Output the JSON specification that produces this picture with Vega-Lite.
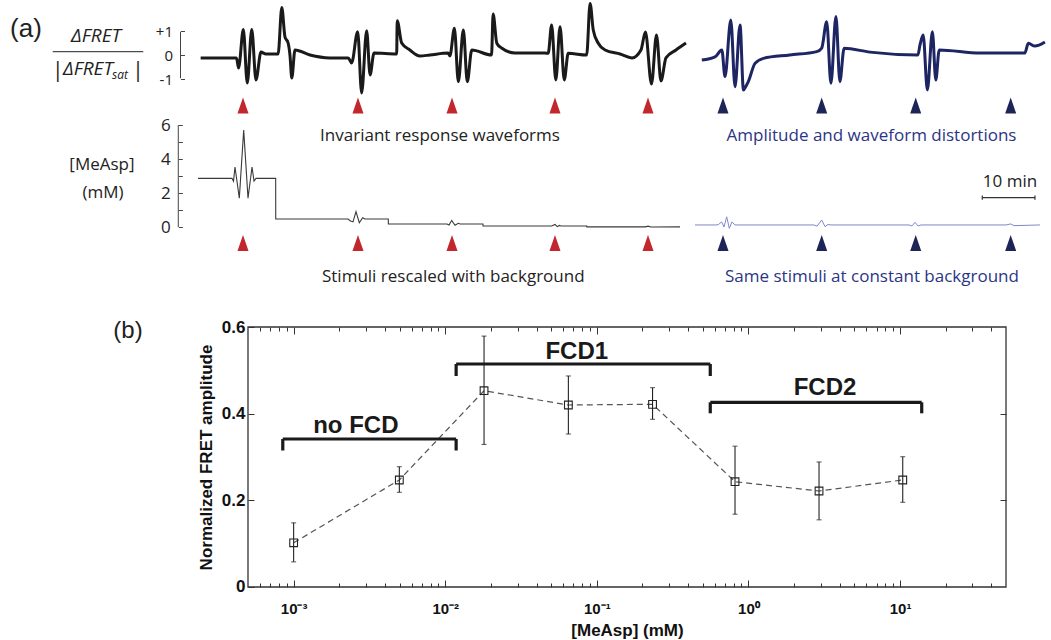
{
  "$schema": "https://vega.github.io/schema/vega-lite/v6.json",
  "width": 1051,
  "height": 640,
  "autosize": {"type": "none"},
  "padding": 0,
  "background": "white",
  "config": {"view": {"stroke": null}, "axis": {"grid": false, "domain": false}},
  "datasets": {
    "resp_bg": [
      {"t":0.5,"v":-0.12},{"t":7.3,"v":-0.12},{"t":7.7,"v":-0.54},{"t":8.6,"v":1.06},{"t":9.35,"v":-1.17},{"t":10.2,"v":1.06},{"t":11.0,"v":-1.04},{"t":11.95,"v":0.12},{"t":12.9,"v":0.04},{"t":15.2,"v":0.04},{"t":15.9,"v":1.98},{"t":16.5,"v":0.76},{"t":17.1,"v":0.5},{"t":17.45,"v":0.0},{"t":17.8,"v":-0.96},{"t":18.4,"v":0.21},{"t":21.25,"v":0.0},{"t":25.0,"v":-0.12},{"t":28.5,"v":-0.12},{"t":29.15,"v":-0.33},{"t":30.3,"v":0.97},{"t":31.05,"v":-1.58},{"t":32.0,"v":1.01},{"t":32.65,"v":-0.83},{"t":33.4,"v":0.08},{"t":37.7,"v":0.04},{"t":37.8,"v":1.43},{"t":38.65,"v":0.5},{"t":40.2,"v":0.21},{"t":42.1,"v":-0.04},{"t":44.0,"v":0.0},{"t":47.45,"v":0.08},{"t":47.8,"v":-0.04},{"t":48.65,"v":1.11},{"t":49.4,"v":-1.11},{"t":50.35,"v":1.04},{"t":51.1,"v":-1.11},{"t":51.95,"v":0.21},{"t":55.7,"v":0.0},{"t":56.0,"v":1.71},{"t":56.7,"v":0.49},{"t":57.6,"v":0.29},{"t":60.15,"v":0.08},{"t":65.85,"v":0.08},{"t":66.45,"v":0.07},{"t":67.1,"v":1.25},{"t":67.9,"v":-1.04},{"t":68.7,"v":1.18},{"t":69.5,"v":-1.04},{"t":70.25,"v":0.07},{"t":73.75,"v":0.0},{"t":74.4,"v":2.15},{"t":75.0,"v":1.04},{"t":75.95,"v":0.49},{"t":77.25,"v":0.21},{"t":80.1,"v":0.04},{"t":82.35,"v":-0.12},{"t":84.05,"v":0.21},{"t":84.9,"v":0.96},{"t":86.05,"v":-1.21},{"t":87.0,"v":0.83},{"t":87.85,"v":-1.08},{"t":88.8,"v":-0.12},{"t":90.7,"v":0.21},{"t":92.6,"v":0.5}
    ],
    "resp_const": [
      {"t":95.6,"v":-0.21},{"t":98.1,"v":-0.08},{"t":99.4,"v":0.21},{"t":100.0,"v":-0.9},{"t":101.1,"v":1.46},{"t":101.9,"v":-1.32},{"t":102.85,"v":1.25},{"t":103.5,"v":-1.46},{"t":104.0,"v":-1.29},{"t":104.4,"v":-1.12},{"t":105.7,"v":-0.35},{"t":107.3,"v":-0.14},{"t":112.3,"v":0.0},{"t":117.4,"v":0.14},{"t":118.35,"v":0.29},{"t":119.3,"v":1.39},{"t":120.1,"v":-1.18},{"t":121.05,"v":1.6},{"t":121.8,"v":-1.11},{"t":122.6,"v":0.28},{"t":127.5,"v":0.12},{"t":136.6,"v":0.0},{"t":137.0,"v":0.42},{"t":137.6,"v":0.83},{"t":138.4,"v":-1.46},{"t":139.35,"v":0.97},{"t":140.0,"v":-1.04},{"t":140.65,"v":0.21},{"t":148.4,"v":0.08},{"t":156.9,"v":0.08},{"t":157.55,"v":0.49},{"t":158.8,"v":0.37},{"t":160.7,"v":0.54}
    ],
    "stim_bg": [
      {"t":0,"v":2.86},{"t":6.45,"v":2.86},{"t":6.74,"v":2.7},{"t":7.02,"v":3.53},{"t":7.84,"v":1.7},{"t":8.67,"v":5.7},{"t":9.49,"v":1.7},{"t":10.25,"v":3.53},{"t":10.63,"v":2.7},{"t":11.01,"v":2.86},{"t":14.74,"v":2.86},{"t":14.75,"v":0.47},{"t":28.46,"v":0.47},{"t":28.94,"v":0.35},{"t":29.41,"v":0.3},{"t":29.98,"v":0.9},{"t":30.61,"v":0.25},{"t":31.25,"v":0.55},{"t":31.69,"v":0.47},{"t":36.11,"v":0.47},{"t":36.12,"v":0.18},{"t":47.25,"v":0.18},{"t":47.63,"v":0.12},{"t":48.14,"v":0.38},{"t":48.77,"v":0.1},{"t":49.39,"v":0.22},{"t":49.72,"v":0.18},{"t":54.08,"v":0.18},{"t":54.09,"v":0.06},{"t":67.12,"v":0.06},{"t":67.74,"v":0.15},{"t":68.18,"v":0.02},{"t":68.56,"v":0.09},{"t":68.88,"v":0.06},{"t":73.76,"v":0.06},{"t":73.77,"v":0.01},{"t":84.9,"v":0.01},{"t":85.4,"v":0.05},{"t":85.9,"v":0.0},{"t":91.46,"v":0.01}
    ],
    "stim_const": [
      {"t":94.31,"v":0.12},{"t":98.29,"v":0.12},{"t":98.73,"v":0.14},{"t":99.37,"v":0.3},{"t":99.81,"v":0.0},{"t":100.32,"v":0.6},{"t":100.82,"v":-0.08},{"t":101.33,"v":0.3},{"t":101.9,"v":0.12},{"t":116.89,"v":0.12},{"t":117.46,"v":0.05},{"t":118.35,"v":0.41},{"t":118.98,"v":0.02},{"t":119.54,"v":0.15},{"t":120.1,"v":0.12},{"t":134.91,"v":0.12},{"t":135.48,"v":0.06},{"t":136.05,"v":0.28},{"t":136.62,"v":0.06},{"t":137.19,"v":0.12},{"t":153.32,"v":0.12},{"t":154.21,"v":0.18},{"t":154.84,"v":0.08},{"t":159.77,"v":0.12}
    ],
    "stimuli_bg": [{"t":8.54},{"t":30.36},{"t":48.2},{"t":67.74},{"t":85.39}],
    "stimuli_const": [{"t":99.62},{"t":118.35},{"t":136.19},{"t":154.21}],
    "fcd": [
      {"c":0.001,"a":0.102,"lo":0.058,"hi":0.148},
      {"c":0.00498,"a":0.247,"lo":0.2185,"hi":0.2776},
      {"c":0.01803,"a":0.453,"lo":0.329,"hi":0.579},
      {"c":0.0649,"a":0.42,"lo":0.353,"hi":0.487},
      {"c":0.2331,"a":0.4216,"lo":0.387,"hi":0.46},
      {"c":0.8157,"a":0.243,"lo":0.168,"hi":0.325},
      {"c":2.922,"a":0.2215,"lo":0.155,"hi":0.2885},
      {"c":10.42,"a":0.247,"lo":0.1955,"hi":0.3007}
    ],
    "regimes": [
      {"name":"no FCD","from":0.000848,"to":0.0118,"level":0.3415,"foot":0.315},
      {"name":"FCD1","from":0.0118,"to":0.56,"level":0.5146,"foot":0.4869},
      {"name":"FCD2","from":0.56,"to":13.9,"level":0.4262,"foot":0.4008}
    ]
  },
  "layer": [
    {
      "layer": [
        {
          "data": {"name": "resp_bg"},
          "mark": {"type": "line", "stroke": "#1a1a1a", "strokeWidth": 3, "strokeJoin": "round", "interpolate": "monotone"},
          "encoding": {
            "x": {"field": "t", "type": "quantitative", "scale": {"domain": [-37.571, 161.86], "nice": false, "zero": false}, "axis": null},
            "y": {"field": "v", "type": "quantitative", "scale": {"domain": [-24.375, 2.2917], "nice": false, "zero": false},
              "axis": {"orient": "left", "offset": -180.5, "values": [-1, 0, 1], "tickSize": -4, "tickColor": "#444", "tickWidth": 1,
                "labelExpr": "datum.value > 0 ? '+1' : (datum.value < 0 ? '-1' : '0')", "labelFont": "Open Sans", "labelFontSize": 15, "labelColor": "#222", "labelPadding": 12, "labelOverlap": false, "title": null}}
          }
        },
        {
          "data": {"name": "resp_const"},
          "mark": {"type": "line", "stroke": "#1d2563", "strokeWidth": 3, "strokeJoin": "round", "interpolate": "monotone"},
          "encoding": {
            "x": {"field": "t", "type": "quantitative", "scale": {"domain": [-37.571, 161.86], "nice": false, "zero": false}, "axis": null},
            "y": {"field": "v", "type": "quantitative", "scale": {"domain": [-24.375, 2.2917], "nice": false, "zero": false}}
          }
        },
        {
          "data": {"name": "stimuli_bg"},
          "mark": {"type": "point", "shape": "M0,-1L0.69,1L-0.69,1Z", "filled": true, "fill": "#c1272d", "opacity": 1, "size": 256, "strokeWidth": 0},
          "encoding": {
            "x": {"field": "t", "type": "quantitative", "scale": {"domain": [-37.571, 161.86], "nice": false, "zero": false}, "axis": null},
            "y": {"datum": -2.104, "type": "quantitative"}
          }
        },
        {
          "data": {"name": "stimuli_const"},
          "mark": {"type": "point", "shape": "M0,-1L0.69,1L-0.69,1Z", "filled": true, "fill": "#1d2456", "opacity": 1, "size": 256, "strokeWidth": 0},
          "encoding": {
            "x": {"field": "t", "type": "quantitative", "scale": {"domain": [-37.571, 161.86], "nice": false, "zero": false}, "axis": null},
            "y": {"datum": -2.104, "type": "quantitative"}
          }
        },
        {
          "data": {"values": [{}]},
          "mark": {"type": "rule", "stroke": "#444", "strokeWidth": 1},
          "encoding": {"x": {"datum": -3.32, "type": "quantitative"}, "y": {"datum": -0.97, "type": "quantitative"}, "y2": {"datum": 0.97}}
        },
        {
          "data": {"values": [{}]},
          "mark": {"type": "text", "text": "(a)", "font": "Liberation Sans", "fontSize": 26, "fill": "#222", "align": "center", "baseline": "alphabetic"},
          "encoding": {"x": {"datum": -32.64, "type": "quantitative"}, "y": {"datum": 0.75, "type": "quantitative"}}
        },
        {
          "data": {"values": [{}]},
          "mark": {"type": "text", "text": "ΔFRET", "font": "Open Sans", "fontStyle": "italic", "fontSize": 19, "fill": "#222", "align": "center", "baseline": "alphabetic"},
          "encoding": {"x": {"datum": -19.35, "type": "quantitative"}, "y": {"datum": 0.542, "type": "quantitative"}}
        },
        {
          "data": {"values": [{}]},
          "mark": {"type": "rule", "stroke": "#222", "strokeWidth": 1},
          "encoding": {"x": {"datum": -27.57, "type": "quantitative"}, "x2": {"datum": -10.38}, "y": {"datum": 0.1375, "type": "quantitative"}}
        },
        {
          "data": {"values": [{}]},
          "mark": {"type": "text", "text": "|", "font": "Open Sans", "fontSize": 21, "fill": "#222", "align": "center", "baseline": "alphabetic"},
          "encoding": {"x": {"datum": -26.6, "type": "quantitative"}, "y": {"datum": -0.9, "type": "quantitative"}}
        },
        {
          "data": {"values": [{}]},
          "mark": {"type": "text", "text": "ΔFRET", "font": "Open Sans", "fontStyle": "italic", "fontSize": 19, "fill": "#222", "align": "left", "baseline": "alphabetic"},
          "encoding": {"x": {"datum": -25.62, "type": "quantitative"}, "y": {"datum": -0.833, "type": "quantitative"}}
        },
        {
          "data": {"values": [{}]},
          "mark": {"type": "text", "text": "sat", "font": "Open Sans", "fontStyle": "italic", "fontSize": 12, "fill": "#222", "align": "left", "baseline": "alphabetic"},
          "encoding": {"x": {"datum": -16.32, "type": "quantitative"}, "y": {"datum": -1.0, "type": "quantitative"}}
        },
        {
          "data": {"values": [{}]},
          "mark": {"type": "text", "text": "|", "font": "Open Sans", "fontSize": 21, "fill": "#222", "align": "center", "baseline": "alphabetic"},
          "encoding": {"x": {"datum": -11.39, "type": "quantitative"}, "y": {"datum": -0.9, "type": "quantitative"}}
        }
      ]
    },
    {
      "layer": [
        {
          "data": {"name": "stim_bg"},
          "mark": {"type": "line", "stroke": "#3a3a3a", "strokeWidth": 1.1},
          "encoding": {
            "x": {"field": "t", "type": "quantitative", "scale": {"domain": [-37.571, 161.86], "nice": false, "zero": false}, "axis": null},
            "y": {"field": "v", "type": "quantitative", "scale": {"domain": [-24.294, 13.353], "nice": false, "zero": false},
              "axis": {"orient": "left", "offset": -178.3, "values": [0, 1, 2, 3, 4, 5, 6], "tickSize": -4, "tickColor": "#444", "tickWidth": 1,
                "labelExpr": "datum.value % 2 == 0 ? datum.label : ''", "labelFont": "Open Sans", "labelFontSize": 17, "labelColor": "#222", "labelPadding": 12, "labelOverlap": false, "title": null}}
          }
        },
        {
          "data": {"name": "stim_const"},
          "mark": {"type": "line", "stroke": "#7f89c9", "strokeWidth": 1},
          "encoding": {
            "x": {"field": "t", "type": "quantitative", "scale": {"domain": [-37.571, 161.86], "nice": false, "zero": false}, "axis": null},
            "y": {"field": "v", "type": "quantitative", "scale": {"domain": [-24.294, 13.353], "nice": false, "zero": false}}
          }
        },
        {
          "data": {"name": "stimuli_bg"},
          "mark": {"type": "point", "shape": "M0,-1L0.69,1L-0.69,1Z", "filled": true, "fill": "#c1272d", "opacity": 1, "size": 256, "strokeWidth": 0},
          "encoding": {
            "x": {"field": "t", "type": "quantitative", "scale": {"domain": [-37.571, 161.86], "nice": false, "zero": false}, "axis": null},
            "y": {"datum": -0.941, "type": "quantitative"}
          }
        },
        {
          "data": {"name": "stimuli_const"},
          "mark": {"type": "point", "shape": "M0,-1L0.69,1L-0.69,1Z", "filled": true, "fill": "#1d2456", "opacity": 1, "size": 256, "strokeWidth": 0},
          "encoding": {
            "x": {"field": "t", "type": "quantitative", "scale": {"domain": [-37.571, 161.86], "nice": false, "zero": false}, "axis": null},
            "y": {"datum": -0.941, "type": "quantitative"}
          }
        },
        {
          "data": {"values": [{}]},
          "mark": {"type": "rule", "stroke": "#444", "strokeWidth": 1},
          "encoding": {"x": {"datum": -3.74, "type": "quantitative"}, "y": {"datum": 0, "type": "quantitative"}, "y2": {"datum": 6}}
        },
        {
          "data": {"values": [{}]},
          "mark": {"type": "rule", "stroke": "#333", "strokeWidth": 1.2},
          "encoding": {"x": {"datum": 148.82, "type": "quantitative"}, "x2": {"datum": 158.82}, "y": {"datum": 1.724, "type": "quantitative"}}
        },
        {
          "data": {"values": [{}]},
          "mark": {"type": "rule", "stroke": "#333", "strokeWidth": 1.2},
          "encoding": {"x": {"datum": 148.82, "type": "quantitative"}, "y": {"datum": 1.6, "type": "quantitative"}, "y2": {"datum": 1.85}}
        },
        {
          "data": {"values": [{}]},
          "mark": {"type": "rule", "stroke": "#333", "strokeWidth": 1.2},
          "encoding": {"x": {"datum": 158.82, "type": "quantitative"}, "y": {"datum": 1.6, "type": "quantitative"}, "y2": {"datum": 1.85}}
        },
        {
          "data": {"values": [{}]},
          "mark": {"type": "text", "text": "10 min", "font": "Open Sans", "fontSize": 17, "fill": "#222", "align": "center", "baseline": "alphabetic"},
          "encoding": {"x": {"datum": 154.08, "type": "quantitative"}, "y": {"datum": 2.353, "type": "quantitative"}}
        },
        {
          "data": {"values": [{}]},
          "mark": {"type": "text", "text": "Invariant response waveforms", "font": "Open Sans", "fontSize": 17, "fill": "#222", "align": "center", "baseline": "alphabetic"},
          "encoding": {"x": {"datum": 45.92, "type": "quantitative"}, "y": {"datum": 5.059, "type": "quantitative"}}
        },
        {
          "data": {"values": [{}]},
          "mark": {"type": "text", "text": "Amplitude and waveform distortions", "font": "Open Sans", "fontSize": 17, "fill": "#2b3585", "align": "center", "baseline": "alphabetic"},
          "encoding": {"x": {"datum": 127.8, "type": "quantitative"}, "y": {"datum": 5.059, "type": "quantitative"}}
        },
        {
          "data": {"values": [{}]},
          "mark": {"type": "text", "text": "Stimuli rescaled with background", "font": "Open Sans", "fontSize": 17, "fill": "#222", "align": "center", "baseline": "alphabetic"},
          "encoding": {"x": {"datum": 48.44, "type": "quantitative"}, "y": {"datum": -3.235, "type": "quantitative"}}
        },
        {
          "data": {"values": [{}]},
          "mark": {"type": "text", "text": "Same stimuli at constant background", "font": "Open Sans", "fontSize": 17, "fill": "#2b3585", "align": "center", "baseline": "alphabetic"},
          "encoding": {"x": {"datum": 127.89, "type": "quantitative"}, "y": {"datum": -3.235, "type": "quantitative"}}
        },
        {
          "data": {"values": [{}]},
          "mark": {"type": "text", "text": "[MeAsp]", "font": "Open Sans", "fontSize": 17, "fill": "#222", "align": "center", "baseline": "alphabetic"},
          "encoding": {"x": {"datum": -18.22, "type": "quantitative"}, "y": {"datum": 3.353, "type": "quantitative"}}
        },
        {
          "data": {"values": [{}]},
          "mark": {"type": "text", "text": "(mM)", "font": "Open Sans", "fontSize": 17, "fill": "#222", "align": "center", "baseline": "alphabetic"},
          "encoding": {"x": {"datum": -18.03, "type": "quantitative"}, "y": {"datum": 1.706, "type": "quantitative"}}
        }
      ]
    },
    {
      "layer": [
        {
          "data": {"values": [{}]},
          "mark": {"type": "rect", "filled": false, "stroke": "#333", "strokeWidth": 1.3},
          "encoding": {
            "x": {"datum": 0.0005, "type": "quantitative", "scale": {"type": "log", "domain": [0.000011564, 99.04], "nice": false},
              "axis": {"orient": "top", "offset": -327, "values": [0.0006,0.0007,0.0008,0.0009,0.001,0.002,0.003,0.004,0.005,0.006,0.007,0.008,0.009,0.01,0.02,0.03,0.04,0.05,0.06,0.07,0.08,0.09,0.1,0.2,0.3,0.4,0.5,0.6,0.7,0.8,0.9,1,2,3,4,5,6,7,8,9,10,20,30,40],
                "tickSize": {"condition": {"test": "datum.value == 0.001 || datum.value == 0.01 || datum.value == 0.1 || datum.value == 1 || datum.value == 10", "value": -7}, "value": -4},
                "tickColor": "#333", "tickWidth": 1, "labels": false, "title": null}},
            "x2": {"datum": 50},
            "y": {"datum": 0, "type": "quantitative", "scale": {"domain": [-0.12231, 1.35462], "nice": false, "zero": false},
              "axis": {"orient": "right", "offset": -45, "values": [0.2, 0.4], "tickSize": -6, "tickColor": "#333", "labels": false, "title": null}},
            "y2": {"datum": 0.6}
          }
        },
        {
          "data": {"name": "fcd"},
          "mark": {"type": "line", "stroke": "#555", "strokeWidth": 1.2, "strokeDash": [6, 4]},
          "encoding": {
            "x": {"field": "c", "type": "quantitative", "scale": {"type": "log", "domain": [0.000011564, 99.04], "nice": false}, "axis": null},
            "y": {"field": "a", "type": "quantitative", "scale": {"domain": [-0.12231, 1.35462], "nice": false, "zero": false}, "axis": null}
          }
        },
        {
          "data": {"name": "fcd"},
          "mark": {"type": "rule", "stroke": "#222", "strokeWidth": 1.1},
          "encoding": {
            "x": {"field": "c", "type": "quantitative", "axis": null},
            "y": {"field": "lo", "type": "quantitative", "axis": null},
            "y2": {"field": "hi"}
          }
        },
        {
          "data": {"name": "fcd"},
          "mark": {"type": "tick", "orient": "horizontal", "color": "#222", "size": 5, "thickness": 1.1},
          "encoding": {
            "x": {"field": "c", "type": "quantitative", "axis": null},
            "y": {"field": "lo", "type": "quantitative", "axis": null}
          }
        },
        {
          "data": {"name": "fcd"},
          "mark": {"type": "tick", "orient": "horizontal", "color": "#222", "size": 5, "thickness": 1.1},
          "encoding": {
            "x": {"field": "c", "type": "quantitative", "axis": null},
            "y": {"field": "hi", "type": "quantitative", "axis": null}
          }
        },
        {
          "data": {"name": "fcd"},
          "mark": {"type": "point", "shape": "square", "filled": false, "stroke": "#222", "strokeWidth": 1.1, "size": 60, "opacity": 1},
          "encoding": {
            "x": {"field": "c", "type": "quantitative", "scale": {"type": "log", "domain": [0.000011564, 99.04], "nice": false},
              "axis": {"orient": "bottom", "offset": -53, "values": [0.0006,0.0007,0.0008,0.0009,0.001,0.002,0.003,0.004,0.005,0.006,0.007,0.008,0.009,0.01,0.02,0.03,0.04,0.05,0.06,0.07,0.08,0.09,0.1,0.2,0.3,0.4,0.5,0.6,0.7,0.8,0.9,1,2,3,4,5,6,7,8,9,10,20,30,40],
                "tickSize": {"condition": {"test": "datum.value == 0.001 || datum.value == 0.01 || datum.value == 0.1 || datum.value == 1 || datum.value == 10", "value": -7}, "value": -4},
                "tickColor": "#333", "tickWidth": 1,
                "labelExpr": "datum.value == 0.001 ? '10⁻³' : (datum.value == 0.01 ? '10⁻²' : (datum.value == 0.1 ? '10⁻¹' : (datum.value == 1 ? '10⁰' : (datum.value == 10 ? '10¹' : ''))))",
                "labelFont": "Liberation Sans", "labelFontWeight": "bold", "labelFontSize": 15, "labelColor": "#111", "labelPadding": 21, "labelBaseline": "top", "labelOverlap": false, "labelFlush": false, "labelBound": false,
                "title": "[MeAsp] (mM)", "titleFont": "Liberation Sans", "titleFontWeight": "bold", "titleFontSize": 17, "titleColor": "#111", "titleX": 627, "titleY": 48, "titleBaseline": "alphabetic", "titleAlign": "center", "titleAnchor": null}},
            "y": {"field": "a", "type": "quantitative", "scale": {"domain": [-0.12231, 1.35462], "nice": false, "zero": false},
              "axis": {"orient": "left", "offset": -248, "values": [0, 0.2, 0.4, 0.6], "tickSize": -6, "tickColor": "#333", "tickWidth": 1,
                "labelExpr": "datum.value == 0 ? '0' : format(datum.value, '.1f')",
                "labelFont": "Liberation Sans", "labelFontWeight": "bold", "labelFontSize": 17, "labelColor": "#111", "labelPadding": 9, "labelBaseline": "middle", "labelOverlap": false, "labelFlush": false,
                "title": "Normalized FRET amplitude", "titleFont": "Liberation Sans", "titleFontWeight": "bold", "titleFontSize": 17, "titleColor": "#111", "titleX": -42, "titleY": 457, "titleAngle": -90, "titleBaseline": "middle", "titleAlign": "center", "titleAnchor": null}}
          }
        },
        {
          "data": {"name": "regimes"},
          "mark": {"type": "rule", "stroke": "#1a1a1a", "strokeWidth": 3.2},
          "encoding": {
            "x": {"field": "from", "type": "quantitative", "axis": null},
            "x2": {"field": "to"},
            "y": {"field": "level", "type": "quantitative", "axis": null}
          }
        },
        {
          "data": {"name": "regimes"},
          "mark": {"type": "rule", "stroke": "#1a1a1a", "strokeWidth": 3.2},
          "encoding": {
            "x": {"field": "from", "type": "quantitative", "axis": null},
            "y": {"field": "level", "type": "quantitative", "axis": null},
            "y2": {"field": "foot"}
          }
        },
        {
          "data": {"name": "regimes"},
          "mark": {"type": "rule", "stroke": "#1a1a1a", "strokeWidth": 3.2},
          "encoding": {
            "x": {"field": "to", "type": "quantitative", "axis": null},
            "y": {"field": "level", "type": "quantitative", "axis": null},
            "y2": {"field": "foot"}
          }
        },
        {
          "data": {"values": [{}]},
          "mark": {"type": "text", "text": "no FCD", "font": "Liberation Sans", "fontWeight": "bold", "fontSize": 24, "fill": "#1a1a1a", "align": "center", "baseline": "alphabetic"},
          "encoding": {"x": {"datum": 0.002572, "type": "quantitative", "axis": null}, "y": {"datum": 0.3547, "type": "quantitative", "axis": null}}
        },
        {
          "data": {"values": [{}]},
          "mark": {"type": "text", "text": "FCD1", "font": "Liberation Sans", "fontWeight": "bold", "fontSize": 24, "fill": "#1a1a1a", "align": "center", "baseline": "alphabetic"},
          "encoding": {"x": {"datum": 0.07368, "type": "quantitative", "axis": null}, "y": {"datum": 0.5255, "type": "quantitative", "axis": null}}
        },
        {
          "data": {"values": [{}]},
          "mark": {"type": "text", "text": "FCD2", "font": "Liberation Sans", "fontWeight": "bold", "fontSize": 24, "fill": "#1a1a1a", "align": "center", "baseline": "alphabetic"},
          "encoding": {"x": {"datum": 3.201, "type": "quantitative", "axis": null}, "y": {"datum": 0.4431, "type": "quantitative", "axis": null}}
        },
        {
          "data": {"values": [{}]},
          "mark": {"type": "text", "text": "(b)", "font": "Liberation Sans", "fontSize": 24, "fill": "#222", "align": "center", "baseline": "alphabetic"},
          "encoding": {"x": {"datum": 0.0000808, "type": "quantitative", "axis": null}, "y": {"datum": 0.5746, "type": "quantitative", "axis": null}}
        }
      ],
      "resolve": {"axis": {"x": "independent", "y": "independent"}}
    }
  ],
  "resolve": {"scale": {"x": "independent", "y": "independent"}}
}
